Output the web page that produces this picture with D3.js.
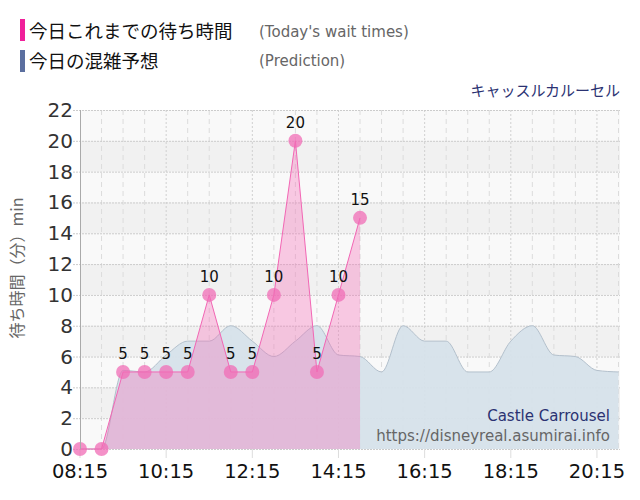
<!DOCTYPE html>
<html><head><meta charset="utf-8">
<script src="https://cdn.jsdelivr.net/npm/d3@7"></script>
<style>
body{margin:0;background:#fff;}
text{font-family:"DejaVu Sans","Noto Sans CJK JP",sans-serif;}
.jp{font-family:"Noto Sans CJK JP","DejaVu Sans",sans-serif;}
</style></head>
<body><svg id="c" width="640" height="500"></svg>
<script>
const actualTimes = ["08:15","08:45","09:15","09:45","10:15","10:45","11:15","11:45","12:15","12:45","13:15","13:45","14:15","14:45"];
const actualValues = [0,0,5,5,5,5,10,5,5,10,20,5,10,15];
const predTimes = ["08:15","08:45","09:15","09:45","10:15","10:45","11:15","11:45","12:15","12:45","13:15","13:45","14:15","14:45","15:15","15:45","16:15","16:45","17:15","17:45","18:15","18:45","19:15","19:45","20:15","20:45"];
const predValues = [0,0,5.1,5,6.1,7,7,8,7,6,7,8,6.1,6,5,8,7,7,5,5,7,8,6.1,6,5.1,5];
const xTickLabels = ["08:15","10:15","12:15","14:15","16:15","18:15","20:15"];
const yTicks = [0,2,4,6,8,10,12,14,16,18,20,22];

const svg = d3.select("#c");
const parse = s => { const [h,m] = s.split(":").map(Number); return h*60+m; };
const L = 80, R = 620, T = 110, B = 449;
const x = d3.scaleLinear().domain([parse("08:15"), parse("20:45")]).range([L, 618.5]);
const y = d3.scaleLinear().domain([0,22]).range([B, T]);

// background
svg.append("rect").attr("x",L).attr("y",T).attr("width",R-L).attr("height",B-T).attr("fill","#f9f9f9");
for (let v=2; v<22; v+=4) {
  svg.append("rect").attr("x",L).attr("y",y(v+2)).attr("width",R-L).attr("height",y(v)-y(v+2)).attr("fill","#f1f1f1");
}
// vertical grid every 30 min
const gridT = d3.range(parse("08:45"), parse("20:45")+1, 30);
gridT.forEach(t=>{
  const isTick = (t - parse("08:15")) % 120 === 0;
  svg.append("line").attr("x1",x(t)).attr("x2",x(t)).attr("y1",T).attr("y2",B)
    .attr("stroke", isTick ? "#d0d0d0" : "#dcdcdc").attr("stroke-width",1)
    .attr("stroke-dasharray", isTick ? "2,2" : "5,4");
});
// horizontal grid
yTicks.forEach(v=>{
  svg.append("line").attr("x1",L-7).attr("x2",R).attr("y1",y(v)+0.5).attr("y2",y(v)+0.5)
    .attr("stroke","#cccccc").attr("stroke-dasharray", "2,1");
});
// x tick marks
xTickLabels.forEach(s=>{
  svg.append("line").attr("x1",x(parse(s))).attr("x2",x(parse(s))).attr("y1",B).attr("y2",B+9)
    .attr("stroke","#dddddd");
});

// prediction area
const predData = predTimes.map((t,i)=>({t:parse(t), v:predValues[i]}));
const area = d3.area().x(d=>x(d.t)).y0(y(0)).y1(d=>y(d.v)).curve(d3.curveMonotoneX);
const line = d3.line().x(d=>x(d.t)).y(d=>y(d.v)).curve(d3.curveMonotoneX);
svg.append("path").datum(predData).attr("d",area).attr("fill","#d6e1ea").attr("fill-opacity",0.95);
svg.append("path").datum(predData).attr("d",line).attr("fill","none").attr("stroke","#b3c0cc").attr("stroke-width",1);

// actual area
const actData = actualTimes.map((t,i)=>({t:parse(t), v:actualValues[i]}));
const areaA = d3.area().x(d=>x(d.t)).y0(y(0)).y1(d=>y(d.v));
const lineA = d3.line().x(d=>x(d.t)).y(d=>y(d.v));
svg.append("path").datum(actData).attr("d",areaA).attr("fill","#f56cb8").attr("fill-opacity",0.35);
svg.append("path").datum(actData).attr("d",lineA).attr("fill","none").attr("stroke","#f266b4").attr("stroke-width",1);
svg.selectAll("circle.p").data(actData).enter().append("circle")
  .attr("cx",d=>x(d.t)).attr("cy",d=>y(d.v)).attr("r",7)
  .attr("fill","#f06cb6").attr("fill-opacity",0.75);
svg.selectAll("text.lbl").data(actData.filter(d=>d.v>0)).enter().append("text")
  .attr("x",d=>x(d.t)).attr("y",d=>y(d.v)-13).attr("text-anchor","middle")
  .attr("font-size",15).attr("fill","#111").text(d=>d.v);

// left axis line
svg.append("line").attr("x1",L+0.5).attr("x2",L+0.5).attr("y1",T).attr("y2",B).attr("stroke","#aaaaaa");

// y tick labels
yTicks.forEach(v=>{
  svg.append("text").attr("x",L-7).attr("y",y(v)+7).attr("text-anchor","end")
    .attr("font-size",20).attr("fill","#333").text(v);
});
// x tick labels
xTickLabels.forEach(s=>{
  svg.append("text").attr("x",x(parse(s))).attr("y",478).attr("text-anchor","middle")
    .attr("font-size",19.5).attr("fill","#111").text(s);
});
// y axis title
svg.append("text").attr("class","jp").attr("transform","translate(23,268) rotate(-90)")
  .attr("text-anchor","middle").attr("font-size",16).attr("fill","#666").text("待ち時間（分）min");

// legend
svg.append("rect").attr("x",20).attr("y",19).attr("width",5).attr("height",22).attr("fill","#f0209a");
svg.append("rect").attr("x",20).attr("y",50).attr("width",5).attr("height",22).attr("fill","#5b6f9f");
svg.append("text").attr("class","jp").attr("x",29).attr("y",38).attr("font-size",18.5).attr("fill","#111").text("今日これまでの待ち時間");
svg.append("text").attr("class","jp").attr("x",29).attr("y",68).attr("font-size",18.5).attr("fill","#111").text("今日の混雑予想");
svg.append("text").attr("x",259).attr("y",37).attr("font-size",15).attr("fill","#666").text("(Today's wait times)");
svg.append("text").attr("x",259).attr("y",66).attr("font-size",15).attr("fill","#666").text("(Prediction)");

// title
svg.append("text").attr("class","jp").attr("x",620).attr("y",96).attr("text-anchor","end").attr("font-size",15).attr("fill","#2b3272").text("キャッスルカルーセル");
svg.append("text").attr("x",610).attr("y",421).attr("text-anchor","end").attr("font-size",15).attr("fill","#2b3272").text("Castle Carrousel");
svg.append("text").attr("x",610).attr("y",441).attr("text-anchor","end").attr("font-size",15).attr("fill","#666").text("https://disneyreal.asumirai.info");
</script></body></html>
